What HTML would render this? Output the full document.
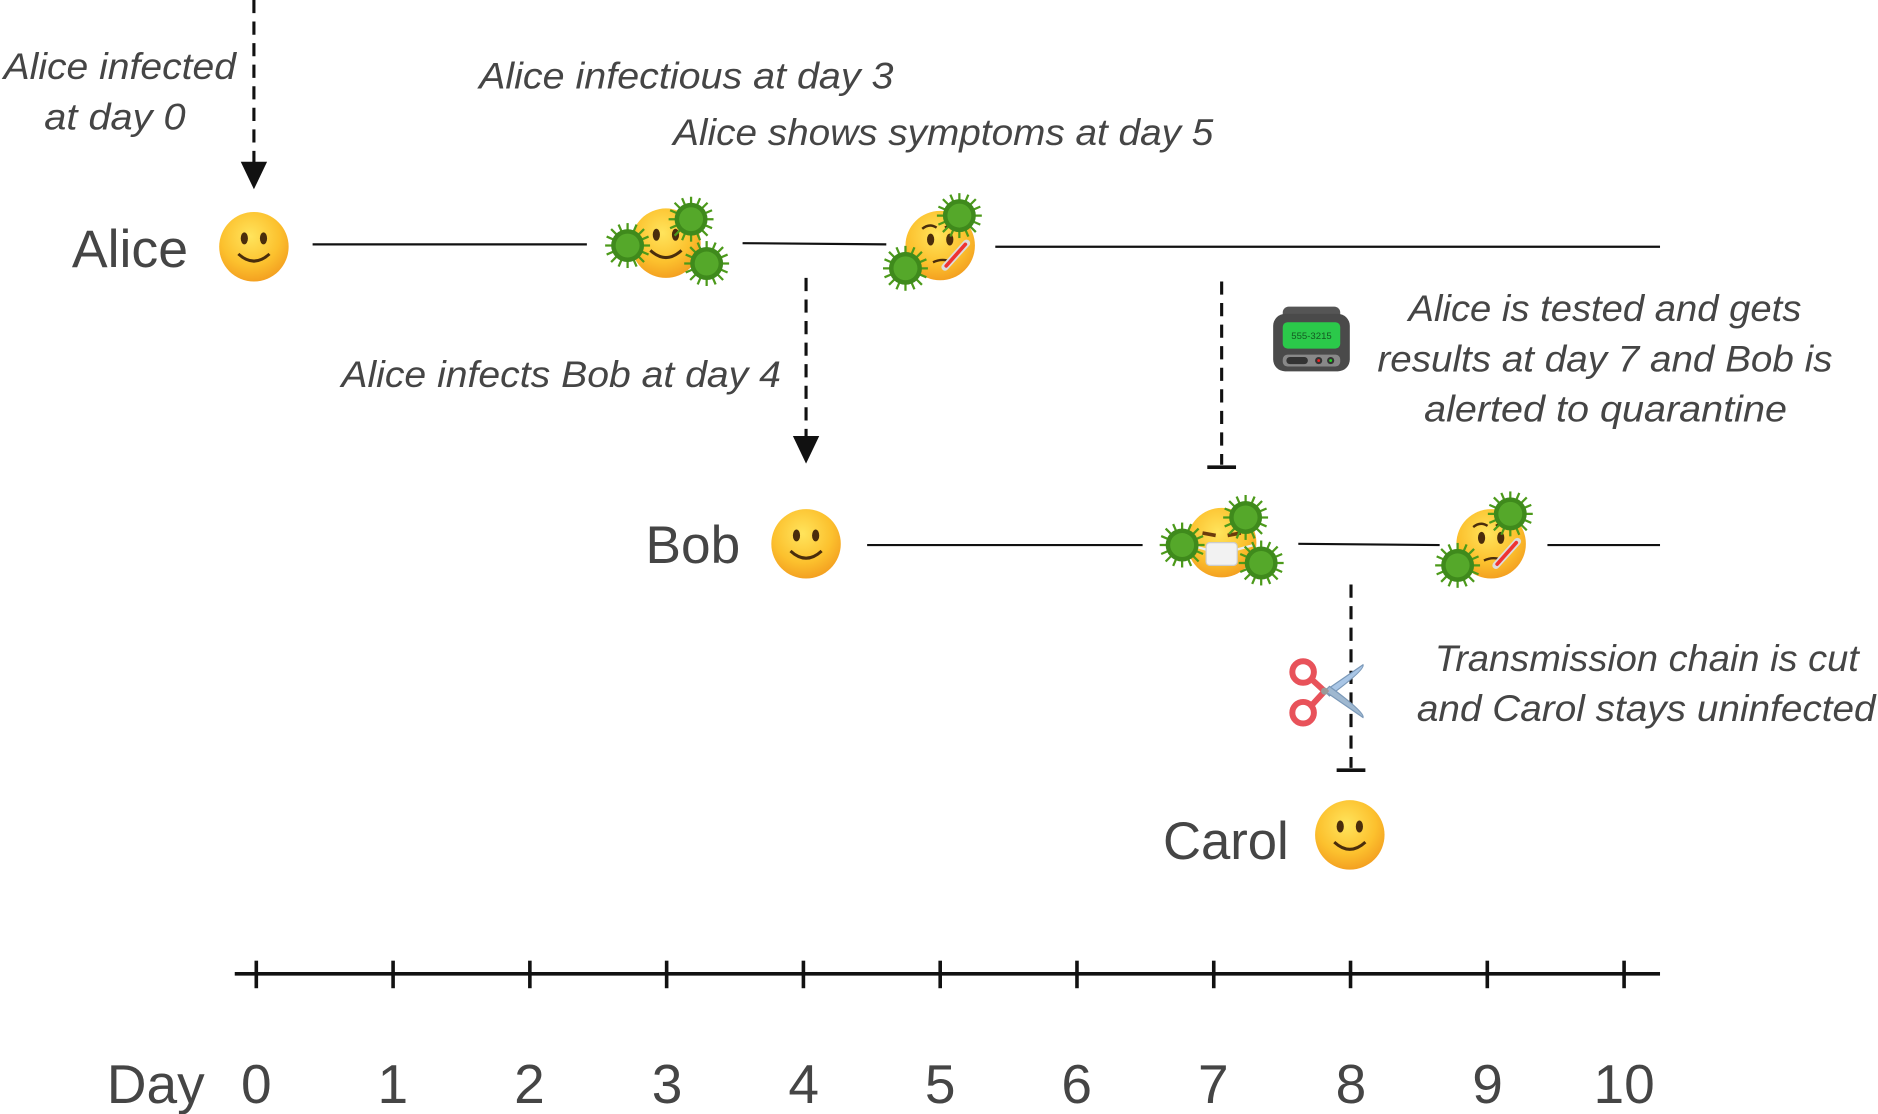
<!DOCTYPE html>
<html><head><meta charset="utf-8"><style>
html,body{margin:0;padding:0;background:#fff;}
svg{display:block;}
text{font-family:"Liberation Sans","DejaVu Sans",sans-serif;fill:#454545;}
.it{font-style:italic;font-size:31px;}
.nm{font-size:44px;}
.ax{font-size:46px;}
</style></head><body>
<svg width="1878" height="1114" viewBox="0 0 1568 930" preserveAspectRatio="none" xmlns="http://www.w3.org/2000/svg">
<defs>
<radialGradient id="fg" cx="0.45" cy="0.35" r="0.7">
<stop offset="0" stop-color="#ffe45c"/><stop offset="0.6" stop-color="#fcc12e"/><stop offset="1" stop-color="#f29a1e"/>
</radialGradient>
<g id="face"><circle r="29" fill="url(#fg)"/></g>
<g id="smile">
<use href="#face"/>
<ellipse cx="-8" cy="-7" rx="3" ry="5" fill="#4a2d0c"/>
<ellipse cx="8" cy="-7" rx="3" ry="5" fill="#4a2d0c"/>
<path d="M-13 6 Q0 18 13 6" stroke="#4a2d0c" stroke-width="2.5" fill="none"/>
</g>
<g id="sick">
<use href="#face"/>
<path d="M-15 -14 Q-9 -19 -3 -15 M4 -15 Q10 -19 16 -14" stroke="#4a2d0c" stroke-width="2" fill="none"/>
<ellipse cx="-8" cy="-5" rx="3" ry="5" fill="#4a2d0c"/>
<ellipse cx="8" cy="-5" rx="3" ry="5" fill="#4a2d0c"/>
<path d="M-6 14 Q2 10 10 14" stroke="#4a2d0c" stroke-width="2" fill="none"/>
<line x1="4" y1="18" x2="22" y2="-2" stroke="#ddd" stroke-width="6" stroke-linecap="round"/>
<line x1="5" y1="17" x2="21" y2="-1" stroke="#e33" stroke-width="3" stroke-linecap="round"/>
</g>
<g id="mask">
<use href="#face"/>
<path d="M-16 -8 L-5 -6 M5 -6 L16 -8" stroke="#6b3b0c" stroke-width="3"/>
<path d="M-27 2 L-12 6 M27 2 L12 6" stroke="#eee" stroke-width="2"/>
<rect x="-13" y="0" width="26" height="19" rx="3" fill="#f2f2f2" stroke="#ccc"/>
</g>
<g id="v0">
<g stroke="#4c9a1a" stroke-width="1.5">
<line x1="-15" y1="0" x2="15" y2="0"/><line x1="0" y1="-15" x2="0" y2="15"/>
<line x1="-11" y1="-11" x2="11" y2="11"/><line x1="-11" y1="11" x2="11" y2="-11"/>
<line x1="-14" y1="-6" x2="14" y2="6"/><line x1="-14" y1="6" x2="14" y2="-6"/>
<line x1="-6" y1="-14" x2="6" y2="14"/><line x1="6" y1="-14" x2="-6" y2="14"/>
</g>
<circle r="11" fill="#3f8a1c"/><circle r="8" fill="#55a82a"/>
</g>
<g id="vir"><use href="#v0" transform="scale(1.25)"/></g>
</defs>

<!-- texts -->
<text class="it" x="3" y="66" textLength="194" lengthAdjust="spacingAndGlyphs">Alice infected</text>
<text class="it" x="37" y="108" textLength="118" lengthAdjust="spacingAndGlyphs">at day 0</text>
<text class="it" x="400" y="74" textLength="346" lengthAdjust="spacingAndGlyphs">Alice infectious at day 3</text>
<text class="it" x="562" y="121" textLength="451" lengthAdjust="spacingAndGlyphs">Alice shows symptoms at day 5</text>
<text class="it" x="285" y="323" textLength="367" lengthAdjust="spacingAndGlyphs">Alice infects Bob at day 4</text>
<text class="it" x="1176" y="268" textLength="328" lengthAdjust="spacingAndGlyphs">Alice is tested and gets</text>
<text class="it" x="1150" y="310" textLength="380" lengthAdjust="spacingAndGlyphs">results at day 7 and Bob is</text>
<text class="it" x="1189" y="352" textLength="303" lengthAdjust="spacingAndGlyphs">alerted to quarantine</text>
<text class="it" x="1198" y="560" textLength="354" lengthAdjust="spacingAndGlyphs">Transmission chain is cut</text>
<text class="it" x="1183" y="602" textLength="383" lengthAdjust="spacingAndGlyphs">and Carol stays uninfected</text>

<text class="nm" x="60" y="223" textLength="97" lengthAdjust="spacingAndGlyphs">Alice</text>
<text class="nm" x="539" y="470" textLength="79" lengthAdjust="spacingAndGlyphs">Bob</text>
<text class="nm" x="971" y="717" textLength="105" lengthAdjust="spacingAndGlyphs">Carol</text>

<!-- timelines -->
<g stroke="#111" stroke-width="1.8">
<line x1="261" y1="204" x2="490" y2="204"/>
<line x1="620" y1="203" x2="740" y2="204"/>
<line x1="831" y1="206" x2="1386" y2="206"/>
<line x1="724" y1="455" x2="954" y2="455"/>
<line x1="1084" y1="454" x2="1202" y2="455"/>
<line x1="1292" y1="455" x2="1386" y2="455"/>
</g>

<!-- dashed -->
<g stroke="#111" stroke-width="2.6" stroke-dasharray="11,7" fill="none">
<line x1="212" y1="0" x2="212" y2="138"/>
<line x1="673" y1="232" x2="673" y2="366"/>
<line x1="1020" y1="235" x2="1020" y2="388"/>
<line x1="1128" y1="488" x2="1128" y2="641"/>
</g>
<polygon points="201,135 223,135 212,158" fill="#111"/>
<polygon points="662,364 684,364 673,387" fill="#111"/>
<line x1="1008" y1="390" x2="1032" y2="390" stroke="#111" stroke-width="3"/>
<line x1="1116" y1="643" x2="1140" y2="643" stroke="#111" stroke-width="3"/>

<!-- emojis -->
<use href="#smile" x="212" y="206"/>
<use href="#smile" x="556" y="203"/>
<use href="#vir" x="524" y="205"/><use href="#vir" x="577" y="183"/><use href="#vir" x="590" y="220"/>
<use href="#sick" x="785" y="205"/>
<use href="#vir" x="801" y="180"/><use href="#vir" x="756" y="224"/>
<use href="#smile" x="673" y="454"/>
<use href="#mask" x="1020" y="453"/>
<use href="#vir" x="987" y="455"/><use href="#vir" x="1040" y="432"/><use href="#vir" x="1053" y="470"/>
<use href="#sick" x="1245" y="454"/>
<use href="#vir" x="1261" y="429"/><use href="#vir" x="1217" y="472"/>
<use href="#smile" x="1127" y="697"/>

<!-- pager -->
<g transform="translate(1095,284)">
<rect x="-24" y="-28" width="48" height="12" rx="5" fill="#555"/>
<rect x="-32" y="-22" width="64" height="48" rx="10" fill="#4a4a4a"/>
<rect x="-24" y="-15" width="48" height="22" rx="4" fill="#2bc94a"/>
<text x="0" y="-1" text-anchor="middle" style="font-size:8px;fill:#145a22">555-3215</text>
<rect x="-24" y="12" width="48" height="10" rx="4" fill="#888"/>
<rect x="-21" y="14" width="18" height="6" rx="3" fill="#333"/>
<circle cx="6" cy="17" r="3" fill="#333"/><circle cx="6" cy="17" r="1.2" fill="#e22"/>
<circle cx="16" cy="17" r="3" fill="#333"/><circle cx="16" cy="17" r="1.2" fill="#2d2"/>
</g>

<!-- scissors -->
<g transform="translate(1104,577)">
<path d="M2 0 L34 -22 Q36 -18 6 4 Z" fill="#a9c6e6" stroke="#7a98b8" stroke-width="1"/>
<path d="M2 0 L34 22 Q36 18 6 -4 Z" fill="#9fb8d0" stroke="#7a98b8" stroke-width="1"/>
<circle cx="-16" cy="-16" r="9" fill="none" stroke="#e8525a" stroke-width="5"/>
<circle cx="-16" cy="18" r="9" fill="none" stroke="#e8525a" stroke-width="5"/>
<path d="M-9 -10 L2 0 L-9 12" stroke="#e8525a" stroke-width="5" fill="none"/>
<circle cx="2" cy="0" r="3" fill="#999"/>
</g>

<!-- axis -->
<line x1="196" y1="813" x2="1386" y2="813" stroke="#111" stroke-width="3"/>
<g stroke="#111" stroke-width="3">
<line x1="214" y1="802" x2="214" y2="825"/><line x1="328.2" y1="802" x2="328.2" y2="825"/>
<line x1="442.4" y1="802" x2="442.4" y2="825"/><line x1="556.6" y1="802" x2="556.6" y2="825"/>
<line x1="670.8" y1="802" x2="670.8" y2="825"/><line x1="785" y1="802" x2="785" y2="825"/>
<line x1="899.2" y1="802" x2="899.2" y2="825"/><line x1="1013.4" y1="802" x2="1013.4" y2="825"/>
<line x1="1127.6" y1="802" x2="1127.6" y2="825"/><line x1="1241.8" y1="802" x2="1241.8" y2="825"/>
<line x1="1356" y1="802" x2="1356" y2="825"/>
</g>
<g text-anchor="middle">
<text class="ax" x="130" y="921">Day</text>
<text class="ax" x="214" y="921">0</text><text class="ax" x="328" y="921">1</text>
<text class="ax" x="442" y="921">2</text><text class="ax" x="557" y="921">3</text>
<text class="ax" x="671" y="921">4</text><text class="ax" x="785" y="921">5</text>
<text class="ax" x="899" y="921">6</text><text class="ax" x="1013" y="921">7</text>
<text class="ax" x="1128" y="921">8</text><text class="ax" x="1242" y="921">9</text>
<text class="ax" x="1356" y="921">10</text>
</g>
</svg>
</body></html>
